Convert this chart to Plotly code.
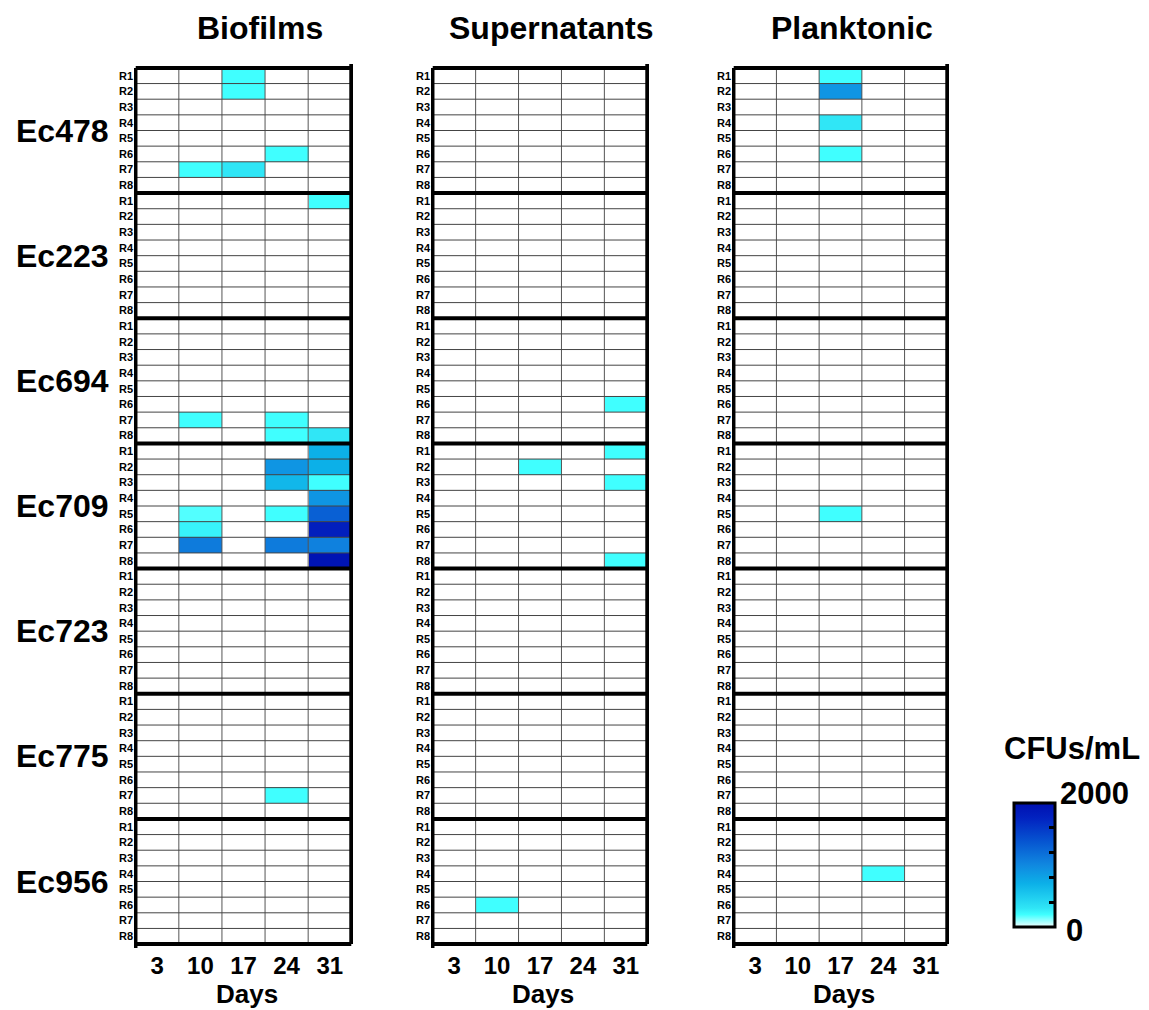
import plotly.graph_objects as go
import numpy as np

# ---------------- data ----------------
panels = ["Biofilms", "Supernatants", "Planktonic"]
strains = ["Ec478", "Ec223", "Ec694", "Ec709", "Ec723", "Ec775", "Ec956"]
replicates = ["R1", "R2", "R3", "R4", "R5", "R6", "R7", "R8"]
days = ["3", "10", "17", "24", "31"]
cbar_ticks = [0, 400, 800, 1200, 1600, 2000]
cbar_labels = ["0", "2000"]

# non-zero cells (CFUs/mL); all other cells are 0
biofilm_strain = ["Ec478", "Ec478", "Ec478", "Ec478", "Ec478", "Ec223",
                  "Ec694", "Ec694", "Ec694", "Ec694",
                  "Ec709", "Ec709", "Ec709", "Ec709", "Ec709", "Ec709", "Ec709", "Ec709",
                  "Ec709", "Ec709", "Ec709", "Ec709", "Ec709", "Ec709", "Ec709",
                  "Ec775"]
biofilm_rep = ["R1", "R2", "R6", "R7", "R7", "R1",
               "R7", "R7", "R8", "R8",
               "R1", "R2", "R2", "R3", "R3", "R4", "R5", "R5",
               "R5", "R6", "R6", "R7", "R7", "R7", "R8",
               "R7"]
biofilm_day = ["17", "17", "24", "10", "17", "31",
               "10", "24", "24", "31",
               "31", "24", "31", "24", "31", "31", "10", "24",
               "31", "10", "31", "10", "24", "31", "31",
               "24"]
biofilm_val = [200, 200, 200, 200, 300, 200,
               200, 200, 200, 300,
               700, 900, 700, 650, 200, 900, 180, 200,
               1300, 250, 1800, 1100, 1100, 1050, 1950,
               200]

super_strain = ["Ec694", "Ec709", "Ec709", "Ec709", "Ec709", "Ec956"]
super_rep = ["R6", "R1", "R2", "R3", "R8", "R6"]
super_day = ["31", "31", "17", "31", "31", "10"]
super_val = [200, 200, 200, 200, 200, 200]

plank_strain = ["Ec478", "Ec478", "Ec478", "Ec478", "Ec709", "Ec956"]
plank_rep = ["R1", "R2", "R4", "R6", "R5", "R4"]
plank_day = ["17", "17", "17", "17", "17", "24"]
plank_val = [200, 900, 300, 200, 200, 200]

panel_records = [
    (biofilm_strain, biofilm_rep, biofilm_day, biofilm_val),
    (super_strain, super_rep, super_day, super_val),
    (plank_strain, plank_rep, plank_day, plank_val),
]

# ---------------- figure ----------------
W, H = 1149, 1010
FONT = "Liberation Sans, Arial, sans-serif"

colorscale = [
    [0.0, "#F2FFFF"], [0.1, "#40FFFF"], [0.15, "#30E6F6"], [0.35, "#0CB0E8"],
    [0.5, "#1088E0"], [0.7, "#0652D0"], [0.88, "#0222C0"], [1.0, "#0010B0"],
]

nrows = len(strains) * len(replicates)
ncols = len(days)

def build_z(recs):
    s, r, d, v = recs
    z = np.full((nrows, ncols), np.nan)
    for si, ri, di, vi in zip(s, r, d, v):
        row = strains.index(si) * len(replicates) + replicates.index(ri)
        z[row, days.index(di)] = vi
    return z

# axis ranges padded slightly so border lines are not clipped
PADX, PADY = 0.04, 0.25
px_x = [(134, 353), (431, 649), (732, 949)]
top_px, bot_px = 64, 948
ydom = [1 - bot_px / H, 1 - top_px / H]

fig = go.Figure()
shapes = []
annotations = []

ylabels = [r for _ in strains for r in replicates]

for i, (name, recs) in enumerate(zip(panels, panel_records)):
    z = build_z(recs)
    xa = "x" if i == 0 else f"x{i+1}"
    ya = "y" if i == 0 else f"y{i+1}"
    tr = go.Heatmap(
        z=z, x=list(range(ncols)), y=list(range(nrows)),
        xaxis=xa, yaxis=ya, zmin=0, zmax=2000, colorscale=colorscale,
        showscale=(i == 0), hoverongaps=False,
    )
    if i == 0:
        tr.colorbar = dict(
            x=1014 / W, xanchor="left", thickness=41, thicknessmode="pixels",
            len=124 / H, lenmode="fraction", y=1 - 865 / H, yanchor="middle",
            outlinewidth=3, outlinecolor="black",
            tickvals=cbar_ticks, showticklabels=False,
            ticks="inside", ticklen=7, tickwidth=2.5, tickcolor="black",
            xpad=0, ypad=0,
        )
    fig.add_trace(tr)

    x0p, x1p = px_x[i]
    dom = [x0p / W, x1p / W]
    axkey = "xaxis" if i == 0 else f"xaxis{i+1}"
    aykey = "yaxis" if i == 0 else f"yaxis{i+1}"
    fig.layout[axkey] = dict(
        domain=dom, anchor=ya, range=[-0.5 - PADX, ncols - 0.5 + PADX],
        tickvals=list(range(ncols)), ticktext=days, showgrid=False,
        zeroline=False, showline=False, ticks="",
        tickfont=dict(family=FONT, size=24, color="black", weight="bold"),
        ticklabelstandoff=1,
    )
    fig.layout[aykey] = dict(
        domain=ydom, anchor=xa, range=[nrows - 0.5 + PADY, -0.5 - PADY],
        tickvals=list(range(nrows)), ticktext=ylabels, showgrid=False,
        zeroline=False, showline=False, ticks="",
        tickfont=dict(family=FONT, size=11, color="black", weight="bold"),
        ticklabelstandoff=0,
    )

    xr, yr = xa, ya
    # thin vertical grid lines
    for k in range(ncols - 1):
        shapes.append(dict(type="line", xref=xr, yref=yr, x0=k + 0.5, x1=k + 0.5,
                           y0=-0.5, y1=nrows - 0.5, line=dict(color="#555", width=1),
                           layer="above"))
    # horizontal lines
    for k in range(1, nrows):
        thick = (k % len(replicates) == 0)
        shapes.append(dict(type="line", xref=xr, yref=yr, x0=-0.5, x1=ncols - 0.5,
                           y0=k - 0.5, y1=k - 0.5,
                           line=dict(color="black" if thick else "#444",
                                     width=4 if thick else 1),
                           layer="above"))
    # borders
    shapes.append(dict(type="line", xref=xr, yref=yr, x0=-0.5, x1=-0.5,
                       y0=-0.5, y1=nrows - 0.5 + PADY, line=dict(color="black", width=3.5), layer="above"))
    shapes.append(dict(type="line", xref=xr, yref=yr, x0=ncols - 0.5, x1=ncols - 0.5,
                       y0=-0.5 - PADY, y1=nrows - 0.5, line=dict(color="black", width=4), layer="above"))
    shapes.append(dict(type="line", xref=xr, yref=yr, x0=-0.5, x1=ncols - 0.5,
                       y0=-0.5, y1=-0.5, line=dict(color="black", width=4), layer="above"))
    shapes.append(dict(type="line", xref=xr, yref=yr, x0=-0.5, x1=ncols - 0.5,
                       y0=nrows - 0.5, y1=nrows - 0.5, line=dict(color="black", width=4), layer="above"))

    # panel title
    title_x = [260, 551, 852][i]
    annotations.append(dict(text=name, x=title_x / W, y=1 - 28 / H, xref="paper", yref="paper",
                            showarrow=False, xanchor="center", yanchor="middle",
                            font=dict(family=FONT, size=32, color="black", weight="bold")))
    # Days label
    annotations.append(dict(text="Days", x=((x0p + x1p) / 2 + 3) / W, y=1 - 994 / H,
                            xref="paper", yref="paper", showarrow=False,
                            xanchor="center", yanchor="middle",
                            font=dict(family=FONT, size=26, color="black", weight="bold")))

# strain labels
for g, s in enumerate(strains):
    annotations.append(dict(text=s, x=62 / W, y=g * len(replicates) + 3.5, xref="paper", yref="y",
                            showarrow=False, xanchor="center", yanchor="middle",
                            font=dict(family=FONT, size=32, color="black", weight="bold")))

# colorbar title and end labels
annotations.append(dict(text="CFUs/mL", x=1072 / W, y=1 - 748 / H, xref="paper", yref="paper",
                        showarrow=False, xanchor="center", yanchor="middle",
                        font=dict(family=FONT, size=31, color="black", weight="bold")))
annotations.append(dict(text=cbar_labels[1], x=1058 / W, y=1 - 793 / H, xref="paper", yref="paper",
                        showarrow=False, xanchor="left", yanchor="middle",
                        font=dict(family=FONT, size=31, color="black", weight="bold")))
annotations.append(dict(text=cbar_labels[0], x=1064 / W, y=1 - 930 / H, xref="paper", yref="paper",
                        showarrow=False, xanchor="left", yanchor="middle",
                        font=dict(family=FONT, size=31, color="black", weight="bold")))

fig.update_layout(
    width=W, height=H, margin=dict(l=0, r=0, t=0, b=0),
    paper_bgcolor="white", plot_bgcolor="white",
    shapes=shapes, annotations=annotations, showlegend=False,
    font=dict(family=FONT, color="black"),
)

fig.write_html("out.html")
